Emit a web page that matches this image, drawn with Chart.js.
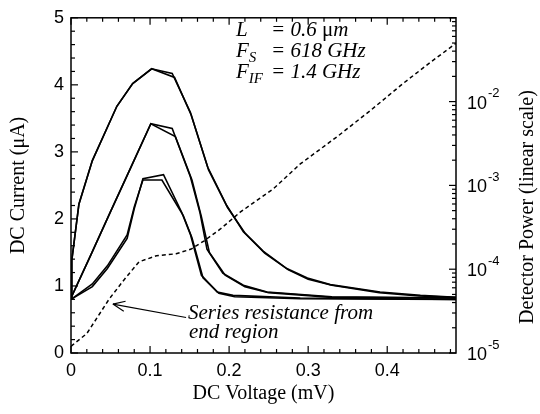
<!DOCTYPE html>
<html>
<head>
<meta charset="utf-8">
<script src="https://cdn.jsdelivr.net/npm/chart.js@4.4.1/dist/chart.umd.min.js"></script>
<style>
	html, body { margin: 0; padding: 0; background: #fff; }
	#wrap { width: 540px; height: 414px; }
</style>
</head>
<body>
<div id="wrap"><canvas id="chart" width="540" height="414"></canvas></div>
<script>
// DC voltage (mV) / DC current (uA), one pair of arrays per curve
// top pair
const volt_A1 = [0, 0.001, 0.01, 0.027, 0.058, 0.078, 0.102, 0.128, 0.151, 0.173, 0.197, 0.218, 0.243, 0.273, 0.299, 0.328, 0.391, 0.442, 0.487]
const curr_A1 = [0.82, 1.38, 2.22, 2.87, 3.68, 4.02, 4.24, 4.17, 3.59, 2.77, 2.20, 1.81, 1.52, 1.26, 1.12, 1.02, 0.91, 0.86, 0.83]
const volt_A2 = [0, 0.001, 0.01, 0.027, 0.058, 0.078, 0.102, 0.131, 0.152, 0.174, 0.198, 0.220, 0.245, 0.275, 0.300, 0.330, 0.390, 0.440, 0.487]
const curr_A2 = [0.82, 1.38, 2.22, 2.87, 3.68, 4.02, 4.24, 4.11, 3.55, 2.73, 2.17, 1.79, 1.49, 1.24, 1.10, 1.01, 0.90, 0.85, 0.83]
// middle pair
const volt_B1 = [0, 0.025, 0.05, 0.075, 0.101, 0.128, 0.151, 0.163, 0.172, 0.192, 0.218, 0.248, 0.33, 0.487]
const curr_B1 = [0.82, 1.46, 2.11, 2.75, 3.42, 3.35, 2.63, 2.10, 1.55, 1.19, 1.01, 0.91, 0.84, 0.82]
const volt_B2 = [0, 0.025, 0.05, 0.075, 0.101, 0.132, 0.153, 0.165, 0.175, 0.195, 0.22, 0.25, 0.33, 0.487]
const curr_B2 = [0.82, 1.46, 2.11, 2.75, 3.42, 3.23, 2.58, 2.03, 1.50, 1.16, 0.99, 0.90, 0.83, 0.82]
// bottom pair
const volt_C1 = [0, 0.027, 0.046, 0.071, 0.08, 0.091, 0.117, 0.14, 0.151, 0.165, 0.185, 0.205, 0.29, 0.487]
const curr_C1 = [0.80, 0.99, 1.26, 1.71, 2.15, 2.60, 2.66, 2.10, 1.77, 1.16, 0.91, 0.86, 0.82, 0.80]
const volt_C2 = [0, 0.027, 0.046, 0.071, 0.08, 0.091, 0.115, 0.142, 0.153, 0.167, 0.187, 0.207, 0.29, 0.487]
const curr_C2 = [0.80, 1.03, 1.30, 1.76, 2.18, 2.58, 2.58, 2.05, 1.72, 1.12, 0.89, 0.84, 0.81, 0.80]
// detector power (dashed), plotted against the left axis
const volt_P = [0, 0.02, 0.048, 0.067, 0.086, 0.108, 0.133, 0.152, 0.168, 0.189, 0.214, 0.256, 0.29, 0.337, 0.378, 0.42, 0.454, 0.487]
const curr_P = [0.10, 0.29, 0.80, 1.09, 1.36, 1.45, 1.48, 1.55, 1.67, 1.85, 2.10, 2.45, 2.82, 3.23, 3.61, 4.02, 4.33, 4.62]

// axes
const volt_ticks = [0, 0.1, 0.2, 0.3, 0.4]
const curr_ticks = [0, 1, 2, 3, 4, 5]
const power_ticks = [1e-5, 1e-4, 1e-3, 1e-2]

const sans = '"Liberation Sans", Arial, sans-serif'
const serif = '"Liberation Serif", "Times New Roman", serif'

function toPoints(xs, ys) {
	return xs.map((x, i) => ({ x: x, y: ys[i] }))
}

function solid(xs, ys) {
	return {
		data: toPoints(xs, ys),
		borderColor: '#000',
		borderWidth: 1.6,
		pointRadius: 0,
		tension: 0,
		fill: false,
		yAxisID: 'y'
	}
}

function isNear(v, list) {
	return list.some(t => Math.abs(t - v) < 1e-9)
}

//Vẽ khung, vạch chia hướng vào trong, nhãn trục phải và chú thích
const framePlugin = {
	id: 'frame',
	afterDraw(chart) {
		const ctx = chart.ctx
		const a = chart.chartArea
		const sx = chart.scales.x, sy = chart.scales.y, sp = chart.scales.y2
		ctx.save()
		ctx.strokeStyle = '#000'
		ctx.fillStyle = '#000'
		ctx.lineWidth = 1.5
		ctx.strokeRect(a.left, a.top, a.right - a.left, a.bottom - a.top)

		const seg = (x1, y1, x2, y2) => {
			ctx.beginPath(); ctx.moveTo(x1, y1); ctx.lineTo(x2, y2); ctx.stroke()
		}
		ctx.lineWidth = 1.2
		sx.ticks.forEach(t => {
			const len = isNear(t.value, volt_ticks) ? 7 : 4
			const px = sx.getPixelForValue(t.value)
			seg(px, a.bottom, px, a.bottom - len)
			seg(px, a.top, px, a.top + len)
		})
		sy.ticks.forEach(t => {
			const len = isNear(t.value, curr_ticks) ? 7 : 4
			const py = sy.getPixelForValue(t.value)
			seg(a.left, py, a.left + len, py)
		})
		sp.ticks.forEach(t => {
			const e = Math.floor(Math.log10(t.value) + 1e-9)
			const m = t.value / Math.pow(10, e)
			if (Math.abs(m - Math.round(m)) > 1e-6) return
			const len = Math.round(m) === 1 ? 7 : 4
			const py = sp.getPixelForValue(t.value)
			seg(a.right, py, a.right - len, py)
		})

		// right axis labels 10^n
		power_ticks.forEach(v => {
			const py = sp.getPixelForValue(v)
			const e = Math.round(Math.log10(v))
			ctx.textBaseline = 'middle'
			ctx.textAlign = 'left'
			ctx.font = '18px ' + sans
			ctx.fillText('10', a.right + 11, py + 2)
			const w = ctx.measureText('10').width
			ctx.font = '13px ' + sans
			ctx.fillText(String(e), a.right + 11 + w + 1, py - 8)
		})

		// right axis title
		ctx.save()
		ctx.translate(528, 207)
		ctx.rotate(-Math.PI / 2)
		ctx.textAlign = 'center'
		ctx.textBaseline = 'middle'
		ctx.font = '20px ' + serif
		ctx.fillText('Detector Power (linear scale)', 0, 0)
		ctx.restore()

		// parameter block
		const runs = (x, y, list) => {
			ctx.textAlign = 'left'
			ctx.textBaseline = 'alphabetic'
			list.forEach(r => {
				ctx.font = r.f
				ctx.fillText(r.t, x, y + (r.dy || 0))
				x += ctx.measureText(r.t).width
			})
		}
		const it = 'italic 21px ' + serif
		const sub = 'italic 15px ' + serif
		runs(236, 36, [{ t: 'L', f: it }])
		runs(271, 36, [{ t: '= 0.6 ', f: it }, { t: 'μ', f: '21px ' + serif }, { t: 'm', f: it }])
		runs(236, 57, [{ t: 'F', f: it }, { t: 'S', f: sub, dy: 5 }])
		runs(271, 57, [{ t: '= 618 GHz', f: it }])
		runs(236, 78, [{ t: 'F', f: it }, { t: 'IF', f: sub, dy: 5 }])
		runs(271, 78, [{ t: '= 1.4 GHz', f: it }])

		runs(188, 319, [{ t: 'Series resistance from', f: it }])
		runs(189, 338, [{ t: 'end region', f: it }])

		// arrow toward the dashed curve
		const tx = sx.getPixelForValue(0.1456), ty = sy.getPixelForValue(0.53)
		const hx = sx.getPixelForValue(0.053), hy = sy.getPixelForValue(0.73)
		ctx.lineWidth = 1.2
		seg(tx, ty, hx, hy)
		const ang = Math.atan2(ty - hy, tx - hx)
		seg(hx, hy, hx + 13 * Math.cos(ang - 0.4), hy + 13 * Math.sin(ang - 0.4))
		seg(hx, hy, hx + 13 * Math.cos(ang + 0.4), hy + 13 * Math.sin(ang + 0.4))
		ctx.restore()
	}
}

const datasets = [
	solid(volt_A1, curr_A1), solid(volt_A2, curr_A2),
	solid(volt_B1, curr_B1), solid(volt_B2, curr_B2),
	solid(volt_C1, curr_C1), solid(volt_C2, curr_C2),
	{
		data: toPoints(volt_P, curr_P),
		borderColor: '#000',
		borderWidth: 1.5,
		borderDash: [4, 3],
		pointRadius: 0,
		tension: 0,
		fill: false,
		yAxisID: 'y'
	}
]

const ctx = document.getElementById('chart').getContext('2d')
const chart = new Chart(ctx, {
	type: 'line',
	data: { datasets: datasets },
	plugins: [framePlugin],
	options: {
		responsive: false,
		animation: false,
		devicePixelRatio: 1,
		layout: { padding: { top: 5, left: 0, right: 0, bottom: 0 } },
		plugins: { legend: { display: false }, tooltip: { enabled: false } },
		scales: {
			x: {
				type: 'linear',
				min: 0,
				max: 0.487,
				grid: { display: false, drawTicks: false },
				border: { display: false },
				afterFit: s => { s.height = 61 },
				ticks: {
					stepSize: 0.02,
					includeBounds: false,
					autoSkip: false,
					maxRotation: 0,
					padding: 7,
					color: '#000',
					font: { family: sans, size: 18 },
					callback: v => isNear(v, volt_ticks) ? (v === 0 ? '0' : v.toFixed(1)) : ''
				},
				title: {
					display: true,
					text: 'DC Voltage (mV)',
					color: '#000',
					font: { family: serif, size: 20 },
					padding: { top: 0, bottom: 8 }
				}
			},
			y: {
				type: 'linear',
				position: 'left',
				min: 0,
				max: 5,
				grid: { display: false, drawTicks: false },
				border: { display: false },
				afterFit: s => { s.width = 71 },
				ticks: {
					stepSize: 0.2,
					autoSkip: false,
					padding: 7,
					color: '#000',
					font: { family: sans, size: 18 },
					callback: v => isNear(v, curr_ticks) ? String(Math.round(v)) : ''
				},
				title: {
					display: true,
					text: 'DC Current (μA)',
					color: '#000',
					font: { family: serif, size: 20 },
					padding: { top: 7, bottom: 0 }
				}
			},
			y2: {
				type: 'logarithmic',
				position: 'right',
				min: 1e-5,
				max: 0.1,
				grid: { display: false, drawTicks: false },
				border: { display: false },
				afterFit: s => { s.width = 84 },
				ticks: { display: false, autoSkip: false }
			}
		}
	}
})
</script>
</body>
</html>
